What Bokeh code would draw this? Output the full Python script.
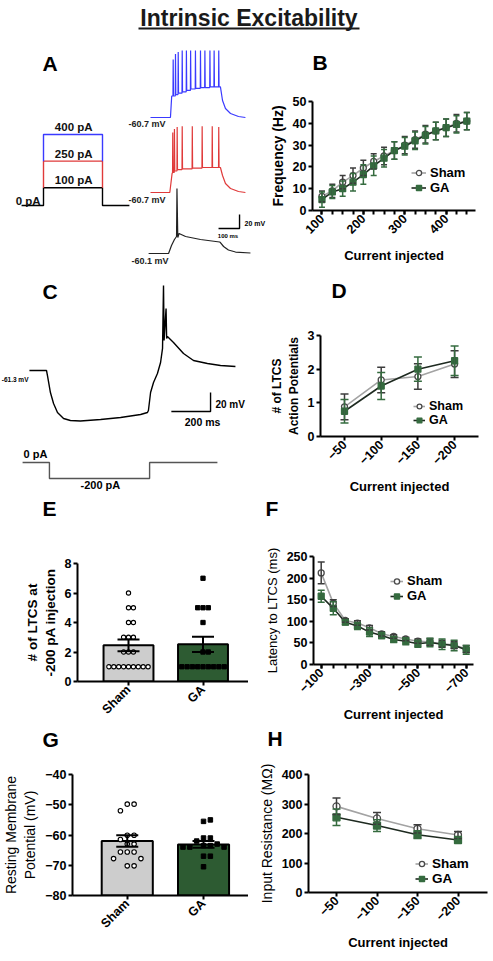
import math
from bokeh.plotting import figure
from bokeh.layouts import column, row
from bokeh.models import (Range1d, Label, Legend, LegendItem, Whisker, TeeHead,
                          ColumnDataSource, FixedTicker)
from bokeh.embed import file_html
from bokeh.resources import INLINE

FONT = "Liberation Sans"
GREEN = "#356b3f"
GREEN_BAR = "#2d5b32"
GA_LINE = "#1e2a20"
SHAM_LINE = "#a3a3a3"
SHAM_EDGE = "#4a4a4a"
SHAM_BAR = "#cdcdcd"
BLUE = "#3a3aff"
RED = "#e03a3a"

# ======================= DATA =======================
TITLE = "Intrinsic Excitability"
PANEL_LETTERS = ["A", "B", "C", "D", "E", "F", "G", "H"]

# Panel A: step protocol (ms, pA)
A_PROT_T = [-93, 0, 0, 250, 250, 364]
A_PROT_I = [0, 0, 100, 100, 0, 0]
A_STEP_T = [0, 0, 250, 250]
A_RED_I = [100, 250, 250, 100]
A_BLUE_I = [250, 400, 400, 250]
A_STEP_LEVELS = [100, 250, 400]
A_STEP_LABELS = ["100 pA", "250 pA", "400 pA"]

# Panel A: example traces (ms, mV)
BLUE_REST = -60.7
BLUE_SPIKE_T = [108, 119, 132, 151, 171, 191, 214, 238, 259, 283, 303, 325]
BLUE_SPIKE_PEAK = [22, 30, 33, 35, 35, 35, 35, 35, 35, 35, 35, 35]
BLUE_SPIKE_AHP = [-30, -28, -26, -24, -22, -20, -19, -18, -18, -17, -17, -17]
BLUE_TAIL_T = [333, 343, 357, 381, 419, 452]
BLUE_TAIL_V = [-17, -36.4, -47.8, -55, -59.3, -60.7]

RED_REST = -60.7
RED_SPIKE_T = [106, 114, 127, 151, 199, 246, 294, 325]
RED_SPIKE_PEAK = [25, 30, 33, 34, 34, 34, 34, 33]
RED_SPIKE_AHP = [-32, -30, -28, -27, -26, -25, -25, -25]
RED_TAIL_T = [333, 343, 357, 381, 419, 452]
RED_TAIL_V = [-25, -36.4, -47.8, -55, -59.3, -60.7]

BLACK_REST = -60.1
BLACK_T = [-9, 86, 100, 114, 124, 126, 130, 136, 167, 238, 329, 333, 348, 371, 405, 476]
BLACK_V = [-60.1, -60.1, -48.7, -40.1, -35.8, 32.8, -37.2, -31.5, -35.8, -40.1, -43.7,
           -44.5, -50.1, -55.1, -58.0, -59.4]

# Panel B: firing frequency (Hz) vs injected current (pA)
B_X = [100, 125, 150, 175, 200, 225, 250, 275, 300, 325, 350, 375, 400, 425, 450]
B_SHAM = [6.5, 9.0, 13.0, 16.0, 19.5, 22.5, 25.0, 27.5, 30.0, 32.5, 35.0, 36.5, 38.0, 40.0, 41.0]
B_SHAM_ERR = [2.5, 3.0, 3.0, 3.5, 3.5, 3.5, 4.0, 4.0, 4.0, 4.0, 4.0, 4.0, 4.0, 4.0, 4.0]
B_GA = [5.0, 8.5, 10.0, 13.0, 16.5, 20.5, 24.0, 27.5, 29.5, 32.0, 34.5, 36.5, 38.0, 39.5, 41.0]
B_GA_ERR = [3.5, 3.0, 3.5, 4.0, 4.5, 4.5, 4.0, 4.0, 4.0, 4.0, 4.0, 4.0, 4.0, 4.0, 4.0]

# Panel C: LTCS example trace (ms, mV) and protocol (ms, pA)
C_REST = -61.3
C_T = [-87, 0, 5, 20, 36, 56, 87, 122, 173, 276, 378, 480, 515, 520, 531, 546, 566, 582,
       592, 597, 600, 610, 613, 617, 648, 699, 750, 821, 888, 964]
C_V = [-61.3, -61.3, -66.6, -84.5, -96.0, -105.5, -111.8, -113.9, -114.5, -112.9, -110.8,
       -107.6, -105.5, -103.4, -84.5, -73.9, -64.5, -52.9, -38.1, 28.2, -29.7, 4.0, -27.6,
       -25.5, -31.8, -43.4, -50.8, -53.9, -56.0, -57.1]
C_PROT_T = [-122, 15, 15, 526, 526, 872]
C_PROT_I = [0, 0, -200, -200, 0, 0]

# Panel D: number of LTCS action potentials
D_X = [-50, -100, -150, -200]
D_SHAM = [0.88, 1.68, 1.78, 2.15]
D_SHAM_ERR = [0.38, 0.38, 0.38, 0.40]
D_GA = [0.75, 1.50, 2.00, 2.25]
D_GA_ERR = [0.35, 0.40, 0.36, 0.44]

# Panel E: # of LTCS at -200 pA
E_GROUPS = ["Sham", "GA"]
E_MEAN = [2.45, 2.52]
E_SEM = [0.40, 0.52]
E_SHAM_PTS = [6, 5, 5, 4, 4, 3, 3, 3, 2, 2, 2, 1, 1, 1, 1, 1, 1, 1, 1, 1]
E_GA_PTS = [7, 5, 5, 5, 4, 2, 2, 1, 1, 1, 1, 1, 1, 1, 1, 1]

# Panel F: latency to LTCS (ms)
F_X = [-100, -150, -200, -250, -300, -350, -400, -450, -500, -550, -600, -650, -700]
F_SHAM = [212, 142, 102, 96, 85, 71, 65, 59, 54, 52, 48, 45, 36]
F_SHAM_ERR = [25, 8, 4, 5, 5, 5, 4, 4, 5, 8, 8, 8, 8]
F_GA = [158, 130, 98, 89, 75, 67, 58, 54, 48, 51, 47, 44, 34]
F_GA_ERR = [14, 15, 6, 8, 10, 7, 7, 8, 8, 10, 12, 12, 10]

# Panel G: resting membrane potential (mV)
G_MEAN = [-62.0, -63.1]
G_SEM = [1.9, 1.1]
G_SHAM_PTS = [-49.8, -49.8, -52.0, -60.1, -60.1, -61.5, -63.0, -63.0, -65.6, -65.6, -65.6,
              -67.8, -67.8, -70.2, -70.2]
G_GA_PTS = [-55.5, -55.0, -61.0, -61.0, -62.0, -63.0, -63.5, -63.5, -64.0, -64.0, -64.0,
            -67.0, -67.0, -70.5]

# Panel H: input resistance (MOhm)
H_X = [-50, -100, -150, -200]
H_SHAM = [292, 251, 216, 195]
H_SHAM_ERR = [28, 20, 14, 12]
H_GA = [255, 227, 196, 178]
H_GA_ERR = [28, 20, 13, 10]


# ======================= HELPERS =======================
def xvals(left, right, anchor_px, anchor_val, ppu, reverse=False):
    s = -1 if reverse else 1
    return (anchor_val + s * (left - anchor_px) / ppu, anchor_val + s * (right - anchor_px) / ppu)


def yvals(top, bottom, anchor_px, anchor_val, ppu):
    return (anchor_val - (bottom - anchor_px) / ppu, anchor_val + (anchor_px - top) / ppu)


def blank_fig(box, xv, yv):
    L, T, R, B = box
    p = figure(width=R - L, height=B - T, x_range=Range1d(*xv), y_range=Range1d(*yv),
               x_axis_location=None, y_axis_location=None, min_border=0,
               toolbar_location=None, output_backend="svg", align="start")
    p.grid.visible = False
    p.outline_line_color = None
    return p


def strip(box):
    """blank band whose data units are page pixels"""
    L, T, R, B = box
    return blank_fig(box, (L, R), (B, T))


def chart(box, frame, xv, yv):
    L, T, R, B = box
    l, t, r, b = frame
    p = figure(width=R - L, height=B - T, x_range=Range1d(*xv), y_range=Range1d(*yv),
               min_border_left=l - L, min_border_right=R - r, min_border_top=t - T,
               min_border_bottom=B - b, toolbar_location=None, output_backend="svg",
               align="start")
    p.grid.visible = False
    p.outline_line_color = None
    for ax in p.axis:
        ax.axis_line_width = 2
        ax.axis_line_color = "black"
        ax.major_tick_line_width = 2
        ax.major_tick_line_color = "black"
        ax.major_tick_out = 4
        ax.major_tick_in = 0
        ax.minor_tick_out = 0
        ax.minor_tick_in = 0
        ax.major_label_text_font = FONT
        ax.major_label_text_font_style = "bold"
        ax.major_label_text_font_size = "12.5px"
        ax.major_label_text_color = "black"
        ax.major_label_standoff = 2
        ax.axis_label_text_font = FONT
        ax.axis_label_text_color = "black"
        ax.axis_label_standoff = 4
    p.xaxis.axis_label_standoff = 7
    return p


def set_titles(p, ytitle, ystyle, ysize, xtitle=None):
    p.yaxis.axis_label = ytitle
    p.yaxis.axis_label_text_font_style = ystyle
    p.yaxis.axis_label_text_font_size = ysize
    if xtitle:
        p.xaxis.axis_label = xtitle
        p.xaxis.axis_label_text_font_style = "bold"
        p.xaxis.axis_label_text_font_size = "13px"


def text(p, x, y, s, size, align="left", bold=True, color="black", **kw):
    p.add_layout(Label(x=x, y=y, text=s, text_align=align, text_baseline="middle",
                       text_font=FONT, text_font_style="bold" if bold else "normal",
                       text_font_size=size, text_color=color, **kw))


def letter(p, ch, px, py):
    text(p, px, py, ch, "21px")


def series(p, x, y, e, marker, size, fill, edge, lcolor, ecolor, cap):
    src = ColumnDataSource(dict(x=x, y=y, lo=[a - b for a, b in zip(y, e)],
                                hi=[a + b for a, b in zip(y, e)]))
    ln = p.line("x", "y", source=src, line_color=lcolor, line_width=1.6)
    wh = Whisker(source=src, base="x", lower="lo", upper="hi", line_color=ecolor,
                 line_width=1.5,
                 upper_head=TeeHead(size=cap, line_color=ecolor, line_width=1.5),
                 lower_head=TeeHead(size=cap, line_color=ecolor, line_width=1.5))
    wh.level = "glyph"
    p.add_layout(wh)
    sc = p.scatter("x", "y", source=src, marker=marker, size=size, fill_color=fill,
                   line_color=edge, line_width=1.3)
    return ln, sc


def two_series(p, x, s, se, g, ge, size, cap):
    r1 = series(p, x, s, se, "circle", size, "white", SHAM_EDGE, SHAM_LINE, "#3c3c3c", cap)
    r2 = series(p, x, g, ge, "square", size, GREEN, GREEN, GA_LINE, GREEN, cap)
    return r1, r2


def legend(p, r1, r2, sx, sy, row_h, glyph_w, fsize):
    lg = Legend(items=[LegendItem(label="Sham", renderers=list(r1)),
                       LegendItem(label="GA", renderers=list(r2))],
                location=(sx, sy), orientation="vertical", padding=0, margin=0,
                spacing=0, glyph_width=glyph_w, glyph_height=row_h, label_height=row_h,
                label_standoff=4, border_line_color=None, background_fill_alpha=0,
                label_text_font=FONT, label_text_font_style="bold",
                label_text_font_size=fsize, label_text_color="black",
                label_text_baseline="middle")
    p.add_layout(lg)


def swarm(vals, center, ppx_x, ppx_y, d):
    placed = []
    xs = [0.0] * len(vals)
    for i in range(len(vals)):
        y = vals[i] * ppx_y
        off = 0.0
        for k in range(0, 60):
            off = 0.0 if k == 0 else ((k + 1) // 2) * d * (1 if k % 2 else -1)
            if all((off - px) ** 2 + (y - py) ** 2 >= (0.97 * d) ** 2 for px, py in placed):
                break
        placed.append((off, y))
        xs[i] = center + off / ppx_x
    return xs


def spike_train(rest, onset, rise_t, rise_v, st, sp, sa, tail_t, tail_v):
    t = [0, onset, rise_t]
    v = [rest, rest, rise_v]
    last = rise_v
    for ts, pk, ah in zip(st, sp, sa):
        t += [ts - 1.0, ts, ts + 1.5]
        v += [last, pk, ah]
        last = ah
    return t + tail_t, v + tail_v


def bar_panel(p, means, sems, base, sham_pts, ga_pts, ppx_x, ppx_y, d1, d2, msize):
    p.vbar(x=[1, 2], top=means, bottom=base, width=0.67, fill_color=[SHAM_BAR, GREEN_BAR],
           line_color="black", line_width=2)
    sx = swarm(sham_pts, 1, ppx_x, ppx_y, d1)
    p.scatter(sx, sham_pts, marker="circle", size=msize, fill_color="white",
              line_color="black", line_width=1.1)
    gx = swarm(ga_pts, 2, ppx_x, ppx_y, d2)
    p.scatter(gx, ga_pts, marker="square", size=msize, fill_color="black", line_color="black")
    src = ColumnDataSource(dict(x=[1, 2], lo=[m - s for m, s in zip(means, sems)],
                                hi=[m + s for m, s in zip(means, sems)]))
    p.add_layout(Whisker(source=src, base="x", lower="lo", upper="hi", line_color="black",
                         line_width=2, level="annotation",
                         upper_head=TeeHead(size=22, line_color="black", line_width=2),
                         lower_head=TeeHead(size=22, line_color="black", line_width=2)))
    p.xaxis.ticker = FixedTicker(ticks=[1, 2])
    p.xaxis.major_label_overrides = {1: E_GROUPS[0], 2: E_GROUPS[1]}
    p.xaxis.major_label_orientation = math.pi / 4


# ======================= TITLE (page 0..492 x 0..48) =======================
tp = strip((0, 0, 492, 48))
text(tp, 248.5, 17, TITLE, "23px", align="center", color="#1a1a1a")
tp.segment(x0=[138], y0=[28], x1=[359], y1=[28], line_width=2, line_color="#1a1a1a")

# ======================= PANEL A (page 0..266 x 48..278) =======================
pA = blank_fig((0, 48, 266, 278), xvals(0, 266, 150, 0, 0.21),
               yvals(48, 278, 117, BLUE_REST, 0.7))
pA.extra_y_ranges = {"red": Range1d(*yvals(48, 278, 192, RED_REST, 0.7)),
                     "black": Range1d(*yvals(48, 278, 253, BLACK_REST, 0.7)),
                     "prot": Range1d(*yvals(48, 278, 205, 0, 0.1775))}
pA.extra_x_ranges = {"prot": Range1d(*xvals(0, 266, 43, 0, 0.236))}

pA.line(A_PROT_T, A_PROT_I, x_range_name="prot", y_range_name="prot",
        line_color="black", line_width=1.4)
pA.line(A_STEP_T, A_RED_I, x_range_name="prot", y_range_name="prot",
        line_color=RED, line_width=1.4)
pA.line(A_STEP_T, A_BLUE_I, x_range_name="prot", y_range_name="prot",
        line_color=BLUE, line_width=1.4)
for lv, lab in zip(A_STEP_LEVELS, A_STEP_LABELS):
    text(pA, 128, lv + 42, lab, "11.5px", align="center", color="#111",
         x_range_name="prot", y_range_name="prot")
text(pA, -12, 28, "0 pA", "11.5px", align="right", color="#111",
     x_range_name="prot", y_range_name="prot")

bt, bv = spike_train(BLUE_REST, 95, 101, -30, BLUE_SPIKE_T, BLUE_SPIKE_PEAK, BLUE_SPIKE_AHP,
                     BLUE_TAIL_T, BLUE_TAIL_V)
pA.line(bt, bv, line_color=BLUE, line_width=1.2)
rt, rv = spike_train(RED_REST, 92, 103, -33, RED_SPIKE_T, RED_SPIKE_PEAK, RED_SPIKE_AHP,
                     RED_TAIL_T, RED_TAIL_V)
pA.line(rt, rv, y_range_name="red", line_color=RED, line_width=1.2)
pA.line(BLACK_T, BLACK_V, y_range_name="black", line_color="#222", line_width=1.2)

text(pA, 71, -69.3, "-60.7 mV", "9px", align="right", color="#222")
text(pA, 71, -71.4, "-60.7 mV", "9px", align="right", color="#222", y_range_name="red")
text(pA, 86, -70.8, "-60.1 mV", "9px", align="right", color="#222", y_range_name="black")
# scale bar: 100 ms / 20 mV
pA.line([324, 424, 424], [-24.4, -24.4, -4.4], y_range_name="black", line_color="black",
        line_width=1.4)
text(pA, 448, -17.2, "20 mV", "7px", y_range_name="black")
text(pA, 369, -34.4, "100 ms", "6px", align="center", y_range_name="black")
# panel letter A (page 42, 62.5) expressed on the blue-trace axes
text(pA, (42 - 150) / 0.21, BLUE_REST + (117 - 62.5) / 0.7, PANEL_LETTERS[0], "21px")

# ======================= PANEL B =======================
sB = strip((266, 48, 492, 74))
letter(sB, PANEL_LETTERS[1], 266, 61.5)
pB = chart((266, 74, 492, 278), (308, 101, 475, 210),
           xvals(308, 475, 317.7, 100, 0.424), (0, 50))
pB.xaxis.ticker = FixedTicker(ticks=[100, 200, 300, 400], minor_ticks=B_X)
pB.xaxis.minor_tick_out = 4
pB.xaxis.minor_tick_line_width = 2
pB.xaxis.minor_tick_line_color = "black"
pB.xaxis.major_label_orientation = math.pi / 4
pB.yaxis.ticker = FixedTicker(ticks=[0, 10, 20, 30, 40, 50])
set_titles(pB, "Frequency (Hz)", "bold", "14px", "Current injected")
r1, r2 = two_series(pB, B_X, B_SHAM, B_SHAM_ERR, B_GA, B_GA_ERR, 6, 6)
legend(pB, r1, r2, 99, 15, 13, 15, "13px")

# ======================= PANEL C (page 0..248 x 278..496) =======================
pC = blank_fig((0, 278, 248, 496), xvals(0, 248, 46, 0, 0.196),
               yvals(278, 496, 370, C_REST, 0.95))
pC.extra_y_ranges = {"prot": Range1d(*yvals(278, 496, 462, 0, 0.08))}
pC.line(C_T, C_V, line_color="black", line_width=1.4)
pC.line(C_PROT_T, C_PROT_I, y_range_name="prot", line_color="#555", line_width=1.4)
text(pC, -92, -70.8, "-61.3 mV", "6.5px", align="right")
pC.line([637, 837, 837], [-104.5, -104.5, -84.5], line_color="black", line_width=1.4)
text(pC, 862, -97.1, "20 mV", "10px")
text(pC, 796, -115, "200 ms", "10.5px", align="center")
text(pC, -117, 112, "0 pA", "11px", y_range_name="prot")
text(pC, 275, -275, "-200 pA", "11px", align="center", y_range_name="prot")
text(pC, (42 - 46) / 0.196, C_REST + (370 - 290.5) / 0.95, PANEL_LETTERS[2], "21px")

# ======================= PANEL D =======================
sD = strip((248, 278, 492, 302))
letter(sD, PANEL_LETTERS[3], 265, 290)
pD = chart((248, 302, 492, 496), (320, 335, 478, 440),
           xvals(320, 478, 344, -50, 0.734, reverse=True), (0, 3))
pD.xaxis.ticker = FixedTicker(ticks=D_X)
pD.xaxis.major_label_orientation = math.pi / 4
pD.yaxis.ticker = FixedTicker(ticks=[0, 1, 2, 3])
set_titles(pD, "# of LTCS\nAction Potentials", "bold", "12px", "Current injected")
r1, r2 = two_series(pD, D_X, D_SHAM, D_SHAM_ERR, D_GA, D_GA_ERR, 6, 8)
legend(pD, r1, r2, 93, 9, 14, 12, "12.5px")

# ======================= LETTERS E / F =======================
sEF = strip((0, 496, 492, 520))
letter(sEF, PANEL_LETTERS[4], 42, 508)
letter(sEF, PANEL_LETTERS[5], 265, 508)

# ======================= PANEL E =======================
pE = chart((0, 520, 248, 724), (77, 563, 248, 681), xvals(77, 248, 128, 1, 74.5), (0, 8))
pE.yaxis.ticker = FixedTicker(ticks=[0, 2, 4, 6, 8])
set_titles(pE, "# of LTCS at\n-200 pA injection", "bold", "13.5px")
bar_panel(pE, E_MEAN, E_SEM, 0, E_SHAM_PTS, E_GA_PTS, 74.5, 14.75, 4.9, 5.3, 4.3)

# ======================= PANEL F =======================
pF = chart((248, 520, 492, 724), (313, 556, 473, 664),
           xvals(313, 473, 320.7, -100, 0.2417, reverse=True), (0, 250))
pF.xaxis.ticker = FixedTicker(ticks=[-100, -300, -500, -700], minor_ticks=F_X)
pF.xaxis.minor_tick_out = 4
pF.xaxis.minor_tick_line_width = 2
pF.xaxis.minor_tick_line_color = "black"
pF.xaxis.major_label_orientation = math.pi / 4
pF.yaxis.ticker = FixedTicker(ticks=[0, 50, 100, 150, 200, 250])
set_titles(pF, "Latency to LTCS (ms)", "normal", "13px", "Current injected")
r1, r2 = two_series(pF, F_X, F_SHAM, F_SHAM_ERR, F_GA, F_GA_ERR, 6, 7)
legend(pF, r1, r2, 77, 61, 14, 13, "13px")

# ======================= LETTERS G / H =======================
sGH = strip((0, 724, 492, 752))
letter(sGH, PANEL_LETTERS[6], 42, 738.5)
letter(sGH, PANEL_LETTERS[7], 267, 737.5)

# ======================= PANEL G =======================
pG = chart((0, 752, 248, 958), (68, 774, 248, 895), xvals(68, 248, 124, 1, 78), (-80, -40))
pG.yaxis.ticker = FixedTicker(ticks=[-80, -70, -60, -50, -40])
set_titles(pG, "Resting Membrane\nPotential (mV)", "normal", "14px")
bar_panel(pG, G_MEAN, G_SEM, -80, G_SHAM_PTS, G_GA_PTS, 78, 3.03, 7, 7, 4.5)

# ======================= PANEL H =======================
pH = chart((248, 752, 492, 958), (308, 774, 487, 892),
           xvals(308, 487, 336, -50, 0.81, reverse=True), (0, 400))
pH.xaxis.ticker = FixedTicker(ticks=H_X)
pH.xaxis.major_label_orientation = math.pi / 4
pH.yaxis.ticker = FixedTicker(ticks=[0, 100, 200, 300, 400])
set_titles(pH, "Input Resistance (M\u03a9)", "normal", "14px", "Current injected")
r1, r2 = two_series(pH, H_X, H_SHAM, H_SHAM_ERR, H_GA, H_GA_ERR, 7, 8)
legend(pH, r1, r2, 107, 6, 15, 13, "13.5px")


def cell(*items):
    return column(*items, spacing=0)


layout = column(tp,
                row(cell(pA), cell(sB, pB), spacing=0),
                row(cell(pC), cell(sD, pD), spacing=0),
                sEF,
                row(cell(pE), cell(pF), spacing=0),
                sGH,
                row(cell(pG), cell(pH), spacing=0), spacing=0)
open("out.html", "w").write(file_html(layout, INLINE))
